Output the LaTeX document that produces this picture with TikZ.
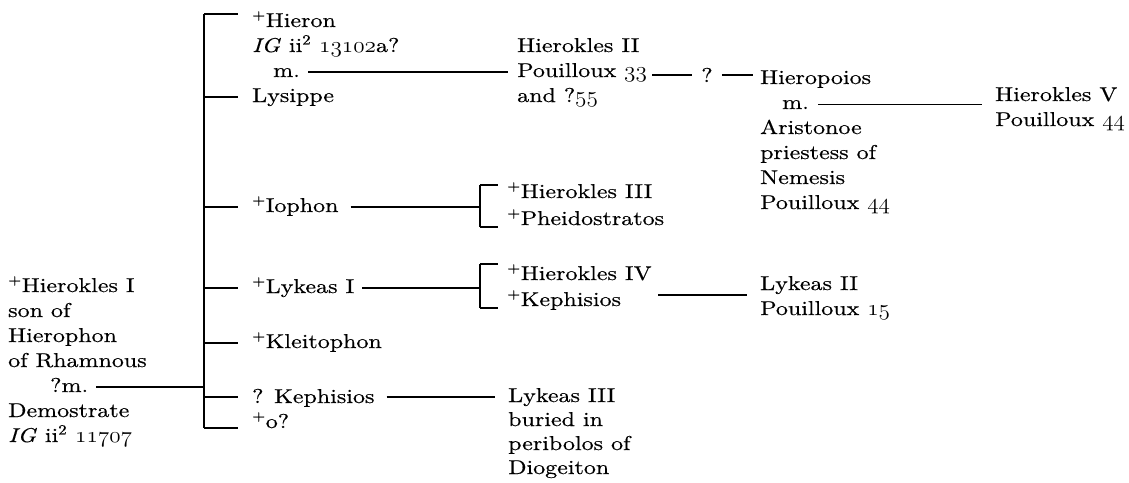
\documentclass[tikz,border=0pt]{standalone}
\usepackage{fontspec}
\setmainfont{lmroman10}[Extension=.otf, UprightFont=*-regular, ItalicFont=*-italic, BoldFont=*-bold, BoldItalicFont=*-bolditalic, FakeStretch=1.2, FakeBold=0.5]
\newcommand\osnum[1]{\scalebox{1.12}[1.08]{\usefont{OML}{cmm}{m}{it}#1}}
\begin{document}
\begin{tikzpicture}[x=1pt,y=-1pt,
  lbl/.style={inner sep=0pt, anchor=base west, font=\fontsize{20}{24}\selectfont},
  conn/.style={line width=1.2pt},
  qmark/.style={inner sep=0pt, anchor=base, font=\fontsize{20}{24}\selectfont}]
\useasboundingbox (0,0) rectangle (1129,482);
% left ancestor
\node[lbl] (h1a) at (8,292) {\textsuperscript{+}Hierokles I};
\node[lbl] (h1b) at (8,317) {son of};
\node[lbl] (h1c) at (8,342) {Hierophon};
\node[lbl] (h1d) at (8,367) {of Rhamnous};
\node[lbl] (h1m) at (50,392) {?m.};
\node[lbl] (h1e) at (8,417) {Demostrate};
\node[lbl] (h1f) at (8,442) {\textit{IG} ii\textsuperscript{2} \osnum{11707}};
% children
\node[lbl] (hieron) at (252,27) {\textsuperscript{+}Hieron};
\node[lbl] (hig) at (252,52) {\textit{IG} ii\textsuperscript{2} \osnum{13102}a?};
\node[lbl] (hm) at (273,77) {m.};
\node[lbl] (lys) at (252,102) {Lysippe};
\node[lbl] (ioph) at (252,212) {\textsuperscript{+}Iophon};
\node[lbl] (lyk) at (252,293) {\textsuperscript{+}Lykeas I};
\node[lbl] (klei) at (252,348) {\textsuperscript{+}Kleitophon};
\node[lbl] (keph) at (252,403) {? Kephisios};
\node[lbl] (oq) at (252,428) {\textsuperscript{+}o?};
% main bracket
\coordinate (mt1) at (204,14);
\coordinate (mt2) at (204,97);
\coordinate (mt3) at (204,207);
\coordinate (mt4) at (204,288);
\coordinate (mt5) at (204,343);
\coordinate (mt6) at (204,397);
\coordinate (mt7) at (204,428);
\coordinate (mj) at (204,387);
\draw[conn] (mt1) -- (mt7);
\draw[conn] ([xshift=8pt,yshift=5pt]h1m.base east) -- (mj);
\draw[conn] (mt1) -- ([xshift=-14pt]hieron.west |- mt1);
\draw[conn] (mt2) -- ([xshift=-14pt]lys.west |- mt2);
\draw[conn] (mt3) -- ([xshift=-14pt]ioph.west |- mt3);
\draw[conn] (mt4) -- ([xshift=-14pt]lyk.west |- mt4);
\draw[conn] (mt5) -- ([xshift=-14pt]klei.west |- mt5);
\draw[conn] (mt6) -- ([xshift=-14pt]keph.west |- mt6);
\draw[conn] (mt7) -- ([xshift=-14pt]oq.west |- mt7);
% Hierokles II
\node[lbl] (h2a) at (517,52) {Hierokles II};
\node[lbl] (h2b) at (517,77) {Pouilloux \osnum{33}};
\node[lbl] (h2c) at (517,102) {and ?\osnum{55}};
\draw[conn] ([xshift=8pt,yshift=5pt]hm.base east) -- ([xshift=-9pt,yshift=5pt]h2b.base west);
\node[qmark] (q1) at (707,82) {?};
% Hieropoios
\node[lbl] (hpo) at (760,84) {Hieropoios};
\node[lbl] (hpm) at (782,109) {m.};
\node[lbl] (ari) at (760,134) {Aristonoe};
\node[lbl] (pri) at (760,159) {priestess of};
\node[lbl] (nem) at (760,184) {Nemesis};
\node[lbl] (p44) at (760,209) {Pouilloux \osnum{44}};
\draw[conn] ([xshift=5pt]h2b.base east |- q1.center) -- ([xshift=-9pt]q1.west |- q1.center);
\draw[conn] ([xshift=9pt]q1.east |- q1.center) -- ([xshift=-7pt]hpo.west |- q1.center);
% Hierokles V
\node[lbl] (hv) at (995,101) {Hierokles V};
\node[lbl] (hvp) at (995,126) {Pouilloux \osnum{44}};
\draw[conn] ([xshift=9pt,yshift=4.5pt]hpm.base east) -- ([xshift=-13pt,yshift=4.5pt]hpm.base east -| hv.west);
% Iophon's children
\node[lbl] (h3) at (507,198) {\textsuperscript{+}Hierokles III};
\node[lbl] (phe) at (507,225) {\textsuperscript{+}Pheidostratos};
\coordinate (s1t) at (480,185);
\coordinate (s1b) at (480,227);
\coordinate (s1j) at (480,207);
\draw[conn] (s1t) -- (s1b);
\draw[conn] (s1t) -- ([xshift=-9pt]h3.west |- s1t);
\draw[conn] (s1b) -- ([xshift=-9pt]phe.west |- s1b);
\draw[conn] ([xshift=12pt]ioph.east |- s1j) -- (s1j);
% Lykeas I's children
\node[lbl] (h4) at (507,280) {\textsuperscript{+}Hierokles IV};
\node[lbl] (kep2) at (507,306) {\textsuperscript{+}Kephisios};
\coordinate (s2t) at (480,264);
\coordinate (s2b) at (480,308);
\coordinate (s2j) at (480,288);
\draw[conn] (s2t) -- (s2b);
\draw[conn] (s2t) -- ([xshift=-9pt]h4.west |- s2t);
\draw[conn] (s2b) -- ([xshift=-9pt]kep2.west |- s2b);
\draw[conn] ([xshift=8pt]lyk.east |- s2j) -- (s2j);
% Lykeas II
\node[lbl] (ly2) at (760,290) {Lykeas II};
\node[lbl] (p15) at (760,315) {Pouilloux \osnum{15}};
\coordinate (l2) at (658,295);
\draw[conn] (l2) -- ([xshift=-13pt]ly2.west |- l2);
% Lykeas III
\node[lbl] (ly3) at (508,402) {Lykeas III};
\node[lbl] (bur) at (508,426) {buried in};
\node[lbl] (per) at (508,450) {peribolos of};
\node[lbl] (dio) at (508,474) {Diogeiton};
\draw[conn] ([xshift=12pt]keph.east |- mt6) -- ([xshift=-13pt]ly3.west |- mt6);
\end{tikzpicture}
\end{document}
